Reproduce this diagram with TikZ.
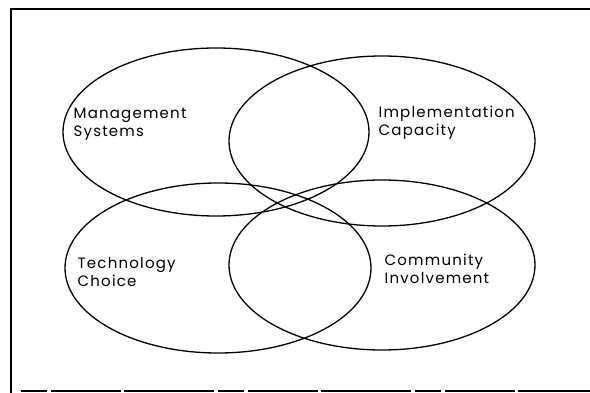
\documentclass[tikz,border=0pt]{standalone}
\usepackage{fontspec}
\setsansfont{Poppins}[LetterSpace=8]
\usetikzlibrary{positioning}

\begin{document}
\begin{tikzpicture}[x=1pt, y=-1pt, line width=1.3pt,
    circtext/.style={font=\sffamily\fontsize{15}{18}\selectfont, align=left, anchor=north west, inner sep=0pt}]
    \useasboundingbox (0,0) rectangle (590,393);

    % Frame
    \draw[line width=2.2pt] (590,9) -- (11,9) -- (11,393);
    \draw[line width=1.6pt, dash pattern=on 26pt off 4pt on 70pt off 3pt on 90pt off 4pt] (21,391) -- (590,391);

    % Circle centres
    \coordinate (mgmt) at (216,132);
    \coordinate (impl) at (382,141);
    \coordinate (tech) at (218,268);
    \coordinate (comm) at (382,265);

    % Circles
    \draw (mgmt) ellipse (153 and 84);
    \draw (impl) ellipse (153 and 85);
    \draw (tech) ellipse (153 and 85);
    \draw (comm) ellipse (153 and 85);

    % Texts
    \node[circtext] (mgmttext) at (73,107) {Management\\Systems};
    \node[circtext] (impltext) at (378,105) {Implementation\\Capacity};
    \node[circtext] (techtext) at (77,257) {Technology\\Choice};
    \node[circtext] (commtext) at (384,253) {Community\\Involvement};
\end{tikzpicture}
\end{document}
